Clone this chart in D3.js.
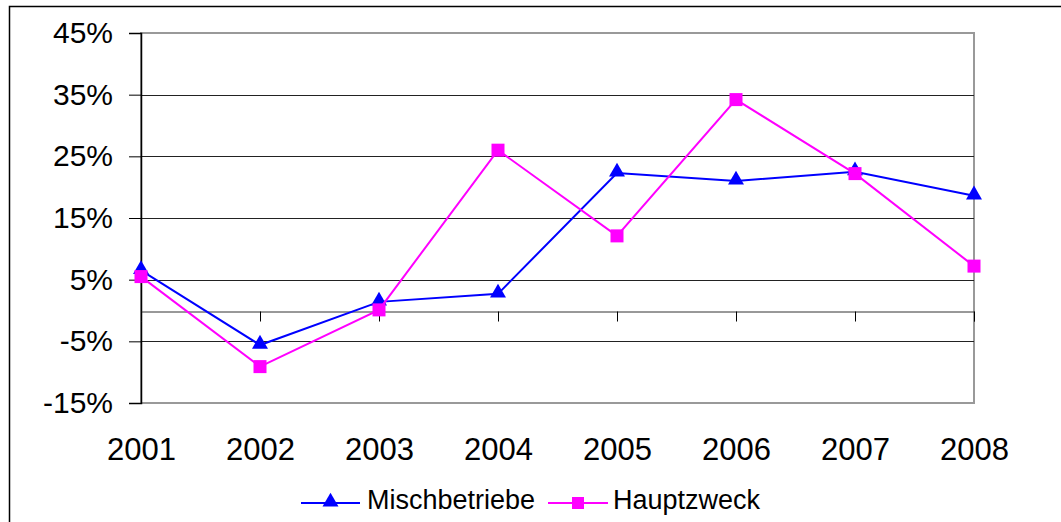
<!DOCTYPE html>
<html>
<head>
<meta charset="utf-8">
<script src="https://cdn.jsdelivr.net/npm/d3@7"></script>
<style>
  body { margin: 0; background: #fff; }
  svg { display: block; font-family: "Liberation Sans", Arial, sans-serif; }
</style>
</head>
<body>
<div id="chart"></div>
<script>
var years = ["2001", "2002", "2003", "2004", "2005", "2006", "2007", "2008"];
var mischbetriebe = [6.5, -5.6, 1.4, 2.7, 22.3, 21.0, 22.5, 18.6];
var hauptzweck = [5.5, -9.1, 0.1, 26.0, 12.1, 34.2, 22.2, 7.2];
var yTicks = [-15, -5, 5, 15, 25, 35, 45];
var seriesNames = ["Mischbetriebe", "Hauptzweck"];

var W = 1061, H = 522;
var plot = {left: 141, right: 974, top: 33, bottom: 403};

var svg = d3.select("#chart").append("svg")
    .attr("width", W)
    .attr("height", H);

// outer chart frame
svg.append("rect")
    .attr("x", 9.5).attr("y", 6.5)
    .attr("width", 1060).attr("height", 540)
    .attr("fill", "#fff")
    .attr("stroke", "#000")
    .attr("stroke-width", 1.5);

var x = d3.scalePoint()
    .domain(years)
    .range([plot.left, plot.right]);

var y = d3.scaleLinear()
    .domain([-15, 45])
    .range([plot.bottom, plot.top]);

// plot area border
svg.append("rect")
    .attr("x", plot.left).attr("y", plot.top)
    .attr("width", plot.right - plot.left)
    .attr("height", plot.bottom - plot.top)
    .attr("fill", "none")
    .attr("stroke", "#999")
    .attr("stroke-width", 2);

// gridlines
svg.append("g")
    .selectAll("line")
    .data(yTicks.slice(1, -1))
    .enter().append("line")
    .attr("x1", plot.left).attr("x2", plot.right)
    .attr("y1", function(d) { return Math.round(y(d)) + 0.5; })
    .attr("y2", function(d) { return Math.round(y(d)) + 0.5; })
    .attr("stroke", "#222")
    .attr("stroke-width", 1);

// y axis
var yAxis = d3.axisLeft(y)
    .tickValues(yTicks)
    .tickSize(12)
    .tickPadding(16)
    .tickFormat(function(d) { return d + "%"; });

var gy = svg.append("g")
    .attr("transform", "translate(" + plot.left + ",0)")
    .call(yAxis);
gy.select(".domain").attr("stroke", "#000").attr("stroke-width", 1.5);
gy.selectAll(".tick line").attr("stroke", "#000");
gy.selectAll("text")
    .attr("font-size", 30)
    .attr("fill", "#000")
    .attr("font-family", "Liberation Sans, Arial, sans-serif");

// zero line with category ticks
var xAxis = d3.axisBottom(x)
    .tickSize(10)
    .tickFormat("");
var gx = svg.append("g")
    .attr("transform", "translate(0," + (Math.round(y(0)) + 0.5) + ")")
    .call(xAxis);
gx.select(".domain").attr("stroke", "#333");
gx.selectAll(".tick line").attr("stroke", "#000");

// category labels below the plot
var xLabels = d3.axisBottom(x)
    .tickSize(0)
    .tickPadding(35);
var gl = svg.append("g")
    .attr("transform", "translate(0," + plot.bottom + ")")
    .call(xLabels);
gl.select(".domain").remove();
gl.selectAll("text")
    .attr("font-size", 31)
    .attr("fill", "#000")
    .attr("font-family", "Liberation Sans, Arial, sans-serif");

var line = d3.line()
    .x(function(d, i) { return x(years[i]); })
    .y(function(d) { return y(d); });

var tri = d3.symbol().type(d3.symbolTriangle).size(110);

// Mischbetriebe
svg.append("path")
    .datum(mischbetriebe)
    .attr("d", line)
    .attr("fill", "none")
    .attr("stroke", "#0000ff")
    .attr("stroke-width", 2);
svg.append("g").selectAll("path")
    .data(mischbetriebe)
    .enter().append("path")
    .attr("d", tri)
    .attr("transform", function(d, i) {
        return "translate(" + x(years[i]) + "," + (y(d) - 1) + ")";
    })
    .attr("fill", "#0000ff");

// Hauptzweck
svg.append("path")
    .datum(hauptzweck)
    .attr("d", line)
    .attr("fill", "none")
    .attr("stroke", "#ff00ff")
    .attr("stroke-width", 2);
svg.append("g").selectAll("rect")
    .data(hauptzweck)
    .enter().append("rect")
    .attr("x", function(d, i) { return x(years[i]) - 6.5; })
    .attr("y", function(d) { return y(d) - 6.5; })
    .attr("width", 13).attr("height", 13)
    .attr("fill", "#ff00ff");

// legend
var legend = svg.append("g").attr("transform", "translate(0,503)");
var lg1 = legend.append("g").attr("transform", "translate(301,0)");
lg1.append("line").attr("x1", 0).attr("x2", 59).attr("y1", 0).attr("y2", 0)
    .attr("stroke", "#0000ff").attr("stroke-width", 2);
lg1.append("path").attr("d", tri).attr("transform", "translate(29.5,-1)").attr("fill", "#0000ff");
lg1.append("text").attr("x", 66).attr("y", 6).text(seriesNames[0])
    .attr("font-size", 27).attr("fill", "#000");

var lg2 = legend.append("g").attr("transform", "translate(548,0)");
lg2.append("line").attr("x1", 0).attr("x2", 60).attr("y1", 0).attr("y2", 0)
    .attr("stroke", "#ff00ff").attr("stroke-width", 2);
lg2.append("rect").attr("x", 24).attr("y", -6).attr("width", 12).attr("height", 12).attr("fill", "#ff00ff");
lg2.append("text").attr("x", 65).attr("y", 6).text(seriesNames[1])
    .attr("font-size", 27).attr("fill", "#000");
</script>
</body>
</html>
